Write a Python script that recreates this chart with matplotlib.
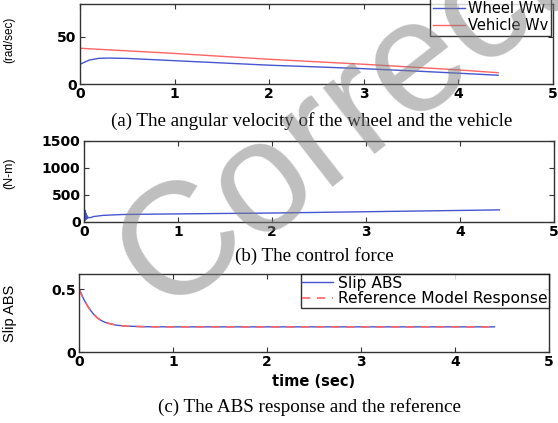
import matplotlib
matplotlib.use("Agg")
import matplotlib.pyplot as plt

# (a) angular velocity of wheel and vehicle
t_a = [0, 0.1, 0.2, 0.3, 0.5, 1.0, 1.5, 2.0, 2.5, 3.0, 3.5, 4.0, 4.42]
wheel_ww = [21, 25.5, 27.3, 27.6, 27.2, 24.8, 22.4, 20.0, 18.2, 16.3, 14.0, 11.5, 9.3]
t_v = [0, 1, 2, 3, 4, 4.42]
vehicle_wv = [38, 32.5, 26.3, 21.0, 15.0, 12.0]

# (b) control force
t_b = [0, 0.003, 0.006, 0.009, 0.012, 0.015, 0.02, 0.025, 0.03, 0.035, 0.04, 0.05,
       0.07, 0.1, 0.2, 0.4, 0.7, 1.0, 1.5, 2.0, 2.5, 3.0, 3.5, 4.0, 4.42]
force = [0, 250, 20, 220, 40, 180, 50, 150, 60, 110, 70, 85,
         80, 100, 122, 138, 145, 150, 158, 166, 178, 190, 202, 214, 224]

# (c) slip
t_c = [0, 0.05, 0.1, 0.15, 0.2, 0.25, 0.3, 0.4, 0.5, 0.7, 1.0, 2.0, 3.0, 4.0, 4.42]
slip_abs = [0.5, 0.42, 0.355, 0.305, 0.268, 0.245, 0.23, 0.213, 0.206, 0.201, 0.2, 0.2, 0.2, 0.2, 0.2]
slip_ref = [0.5, 0.42, 0.355, 0.305, 0.268, 0.245, 0.23, 0.213, 0.206, 0.201, 0.2, 0.2, 0.2, 0.2, 0.2]

blue = '#4556d0'
red = '#ff6464'

fig = plt.figure(figsize=(5.58, 4.23), dpi=100)
ax1 = fig.add_axes([0.1434, 0.8014, 0.8477, 0.189])
ax2 = fig.add_axes([0.1505, 0.4752, 0.8423, 0.1915])
ax3 = fig.add_axes([0.1416, 0.1678, 0.8423, 0.1844])


def matlab_style(ax):
    ax.set_xlim(0, 5)
    ax.set_xticks([0, 1, 2, 3, 4, 5])
    ax.tick_params(direction='in', top=True, right=True, length=3.5, width=0.8,
                   colors='#333333', pad=2.5)
    for lab in ax.get_xticklabels() + ax.get_yticklabels():
        lab.set_fontfamily('DejaVu Sans')
        lab.set_fontweight('bold')
        lab.set_fontsize(10)
        lab.set_color('black')
    for s in ax.spines.values():
        s.set_color('#333333')
        s.set_linewidth(1.0)


ax1.plot(t_a, wheel_ww, color=blue, lw=1, label='Wheel Ww')
ax1.plot(t_v, vehicle_wv, color=red, lw=1, label='Vehicle Wv')
ax1.set_ylim(0, 85)
ax1.set_yticks([0, 50])
matlab_style(ax1)
ax1.set_ylabel('(rad/sec)', fontfamily='Liberation Sans', fontsize=8.5)
ax1.yaxis.set_label_coords(-0.137, 0.55)
leg1 = ax1.legend(loc='upper right', bbox_to_anchor=(0.995, 1.07), frameon=True, fancybox=False,
                  prop={'family': 'DejaVu Sans', 'size': 10.5}, handlelength=2.2,
                  handletextpad=0.2, borderpad=0.2, labelspacing=0.1, borderaxespad=0)
leg1.get_frame().set_edgecolor('black')
leg1.get_frame().set_linewidth(1)

ax2.plot(t_b, force, color=blue, lw=1)
ax2.set_ylim(0, 1500)
ax2.set_yticks([0, 500, 1000, 1500])
matlab_style(ax2)
ax2.set_ylabel('(N-m)', fontfamily='Liberation Sans', fontsize=9)
ax2.yaxis.set_label_coords(-0.147, 0.6)

ax3.plot(t_c, slip_abs, color=blue, lw=1, label='Slip ABS')
ax3.plot(t_c, slip_ref, color=red, lw=1.2, ls=(0, (5, 4)), label='Reference Model Response')
ax3.set_ylim(0, 0.62)
ax3.set_yticks([0, 0.5])
ax3.set_yticklabels(['0', '0.5'])
matlab_style(ax3)
ax3.set_ylabel('Slip ABS', fontfamily='Liberation Sans', fontsize=10.5)
ax3.yaxis.set_label_coords(-0.132, 0.5)
ax3.set_xlabel('time (sec)', fontfamily='DejaVu Sans', fontweight='bold', fontsize=10.5, labelpad=3)
leg3 = ax3.legend(loc='upper right', bbox_to_anchor=(1.0, 1.0), frameon=True, fancybox=False,
                  prop={'family': 'DejaVu Sans', 'size': 11.2}, handlelength=2.0,
                  handletextpad=0.3, borderpad=0.1, labelspacing=0.05, borderaxespad=0)
leg3.get_frame().set_edgecolor('black')
leg3.get_frame().set_linewidth(1)

# captions
cap = {'family': 'Liberation Serif', 'size': 13.7, 'ha': 'center', 'va': 'center'}
fig.text(312 / 558, 1 - 121 / 423, '(a) The angular velocity of the wheel and the vehicle', **cap)
fig.text(314 / 558, 1 - 256 / 423, '(b) The control force', **cap)
fig.text(309 / 558, 1 - 407 / 423, '(c) The ABS response and the reference', **cap)

# watermark
fig.text(0.2914, 0.26, 'Correct', fontfamily='Liberation Sans', fontsize=115, rotation=38,
         rotation_mode='anchor', color='#808080', alpha=0.5, ha='left', va='baseline', zorder=10)

plt.savefig('out.png', dpi=100)
